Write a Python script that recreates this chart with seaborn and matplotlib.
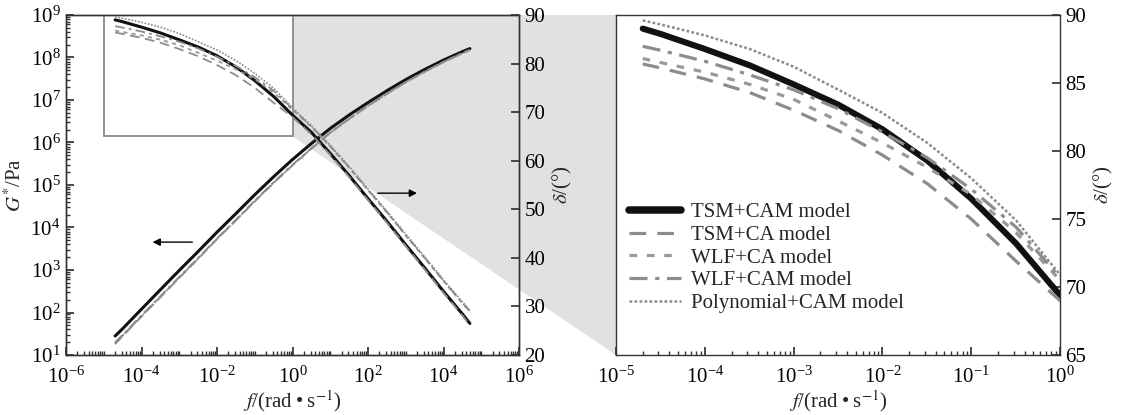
import matplotlib
matplotlib.use('Agg')
import numpy as np
import matplotlib.pyplot as plt
import seaborn as sns
from matplotlib.patches import Rectangle, Polygon
from matplotlib.lines import Line2D
from matplotlib.ticker import LogLocator, NullFormatter

# frequency, rad/s
freq = [2.0e-5, 3.2e-5, 1e-4, 3.2e-4, 1e-3, 3.2e-3, 1e-2, 3.2e-2, 1e-1, 3.2e-1,
        1.0, 3.2, 10, 32, 100, 320, 1e3, 3.2e3, 1e4, 3.2e4, 5.0e4]

models = ['TSM+CAM model', 'TSM+CA model', 'WLF+CA model', 'WLF+CAM model',
          'Polynomial+CAM model']

# complex modulus G*, Pa
gstar_tsm_cam = [28, 42, 120, 347, 977, 2.75e3, 7.76e3, 2.14e4, 5.89e4, 1.58e5,
                 3.98e5, 9.55e5, 2.14e6, 4.47e6, 8.7e6, 1.66e7, 3.02e7, 5.25e7,
                 8.7e7, 1.38e8, 1.62e8]
gstar_tsm_ca = [18, 28, 80, 230, 650, 1.85e3, 5.3e3, 1.47e4, 4.1e4, 1.12e5,
                2.9e5, 7.2e5, 1.68e6, 3.6e6, 7.2e6, 1.4e7, 2.6e7, 4.6e7,
                7.8e7, 1.26e8, 1.5e8]
gstar_wlf_ca = [19, 29, 83, 238, 670, 1.9e3, 5.4e3, 1.5e4, 4.2e4, 1.15e5,
                2.95e5, 7.3e5, 1.7e6, 3.65e6, 7.3e6, 1.42e7, 2.62e7, 4.65e7,
                7.85e7, 1.27e8, 1.5e8]
gstar_wlf_cam = [20, 30, 86, 245, 690, 1.95e3, 5.55e3, 1.54e4, 4.3e4, 1.18e5,
                 3.0e5, 7.45e5, 1.73e6, 3.7e6, 7.4e6, 1.44e7, 2.65e7, 4.7e7,
                 7.9e7, 1.28e8, 1.52e8]
gstar_poly_cam = [19, 29, 82, 235, 660, 1.88e3, 5.35e3, 1.48e4, 4.15e4, 1.13e5,
                  2.92e5, 7.25e5, 1.7e6, 3.62e6, 7.25e6, 1.41e7, 2.6e7, 4.62e7,
                  7.8e7, 1.26e8, 1.49e8]

# phase angle delta, degrees
delta_tsm_cam = [89.0, 88.6, 87.5, 86.3, 84.9, 83.4, 81.6, 79.3, 76.5, 73.2, 69.4,
                 65.8, 61.5, 56.9, 52.2, 47.5, 42.7, 37.9, 33.1, 28.4, 26.5]
delta_tsm_ca = [86.4, 86.1, 85.3, 84.3, 83.0, 81.5, 79.7, 77.6, 75.0, 71.9, 69.0,
                65.4, 61.2, 56.6, 51.9, 47.2, 42.4, 37.6, 32.8, 28.1, 26.2]
delta_wlf_ca = [86.8, 86.5, 85.8, 84.9, 83.8, 82.2, 80.6, 78.8, 76.8, 74.0, 70.5,
                66.9, 62.9, 58.5, 53.9, 49.3, 44.6, 39.9, 35.2, 30.6, 28.9]
delta_wlf_cam = [87.7, 87.4, 86.6, 85.6, 84.5, 83.1, 81.4, 79.5, 77.2, 74.4, 70.7,
                 67.0, 63.0, 58.6, 54.0, 49.4, 44.7, 40.0, 35.3, 30.7, 29.0]
delta_poly_cam = [89.6, 89.3, 88.5, 87.5, 86.2, 84.5, 82.8, 80.6, 78.0, 74.9, 70.9,
                  67.2, 63.2, 58.8, 54.2, 49.6, 44.9, 40.2, 35.5, 30.9, 29.2]

gstar = [gstar_tsm_cam, gstar_tsm_ca, gstar_wlf_ca, gstar_wlf_cam, gstar_poly_cam]
delta = [delta_tsm_cam, delta_tsm_ca, delta_wlf_ca, delta_wlf_cam, delta_poly_cam]

# color, lw left, dashes left, lw right, dashes right
styles = [
    ('#111111', 2.2, None, 4.4, None),
    ('#8c8c8c', 1.3, (7, 4), 2.3, (12, 8)),
    ('#9a9a9a', 1.3, (3, 3), 2.3, (5.5, 7)),
    ('#8c8c8c', 1.3, (7, 3, 2, 3), 2.3, (13, 5.5, 3, 5.5)),
    ('#8c8c8c', 1.2, (1.2, 1.2), 1.8, (2, 1.6)),
]

sns.set_theme(style='ticks')
plt.rcParams['font.family'] = ['Liberation Serif', 'DejaVu Serif']
plt.rcParams['mathtext.fontset'] = 'stix'
plt.rcParams['font.size'] = 15
plt.rcParams['lines.scale_dashes'] = False
plt.rcParams['axes.edgecolor'] = '#333333'
plt.rcParams['axes.linewidth'] = 1.0

fig = plt.figure(figsize=(11.21, 4.15), dpi=100)
W, H = 1121, 415
ax1 = fig.add_axes([66 / W, 60 / H, 453 / W, 340 / H])
ax1.patch.set_visible(False)
ax1.set_xscale('log')
ax1.set_yscale('log')
ax2 = ax1.twinx()
ax3 = fig.add_axes([616 / W, 60 / H, 444 / W, 340 / H])
ax3.set_xscale('log')


def draw(ax, y, color, lw, dashes, z):
    sns.lineplot(x=freq, y=y, ax=ax, color=color, linewidth=lw, estimator=None,
                 sort=False, legend=False, zorder=z,
                 solid_capstyle='round')
    if dashes is not None:
        ax.lines[-1].set_dashes(dashes)


for i in range(len(models)):
    c, lwl, dl, lwr, dr = styles[i]
    draw(ax1, gstar[i], c, lwl, dl, 3 + i)
    draw(ax2, delta[i], c, lwl, dl, 3 + i)
    draw(ax3, delta[i], c, lwr, dr, 3 + i)

xlab = '$f$/(rad\u2009\u2022\u2009s$^{-1}$)'

# left panel axes
ax1.set_xlim(1e-6, 1e6)
ax1.set_ylim(1e1, 1e9)
ax1.set_xticks([1e-6, 1e-4, 1e-2, 1e0, 1e2, 1e4, 1e6])
ax1.xaxis.set_minor_locator(LogLocator(base=10, subs=np.arange(1, 10), numticks=100))
ax1.xaxis.set_minor_formatter(NullFormatter())
ax1.set_yticks([10.0 ** k for k in range(1, 10)])
ax1.yaxis.set_minor_locator(LogLocator(base=10, subs=np.arange(2, 10), numticks=100))
ax1.yaxis.set_minor_formatter(NullFormatter())
ax1.tick_params(which='both', direction='in', top=False, right=False, colors='#333333',
                labelcolor='black', labelsize=15)
ax1.tick_params(axis='x', pad=8)
ax1.tick_params(axis='y', pad=4)
ax1.tick_params(which='major', length=6)
ax1.tick_params(which='minor', length=3)
ax1.set_ylabel('$G^{*}$/Pa', fontsize=15, labelpad=3)
ax1.set_xlabel(xlab, fontsize=15, labelpad=1)

ax2.set_ylim(20, 90)
ax2.set_yticks(range(20, 91, 10))
ax2.tick_params(direction='in', length=6, colors='#333333', labelcolor='black',
                labelsize=15, pad=4)
ax2.set_ylabel('$\\delta$/(\u00b0)', fontsize=15, labelpad=4)
for s in ax2.spines.values():
    s.set_color('#333333')

# inset box marking the zoomed region
ax2.add_patch(Rectangle((1e-5, 65), 1 - 1e-5, 25, fill=False, edgecolor='#8a8a8a',
                        lw=1.3, zorder=2))

# right panel
ax3.set_xlim(1e-5, 1e0)
ax3.set_ylim(65, 90)
ax3.set_xticks([10.0 ** k for k in range(-5, 1)])
ax3.xaxis.set_minor_locator(LogLocator(base=10, subs=np.arange(2, 10), numticks=100))
ax3.xaxis.set_minor_formatter(NullFormatter())
ax3.set_yticks(range(65, 91, 5))
ax3.yaxis.tick_right()
ax3.yaxis.set_label_position('right')
ax3.tick_params(which='both', direction='in', colors='#333333', labelcolor='black',
                labelsize=15, top=False, left=False)
ax3.tick_params(axis='x', pad=8)
ax3.tick_params(axis='y', pad=4)
ax3.tick_params(which='major', length=6)
ax3.tick_params(which='minor', length=3)
ax3.set_ylabel('$\\delta$/(\u00b0)', fontsize=15, labelpad=4)
ax3.set_xlabel(xlab, fontsize=15, labelpad=1)

# grey zoom wedge
inv = fig.transFigure.inverted()
pts = [ax2.transData.transform((1.0, 90)), ax3.transAxes.transform((0, 1)),
       ax3.transAxes.transform((0, 0)), ax2.transData.transform((1.0, 65))]
wedge = Polygon(inv.transform(np.array(pts)), closed=True, transform=fig.transFigure,
                facecolor='#e1e1e4', edgecolor='none', zorder=-1)
fig.add_artist(wedge)

# arrows pointing to the axes
ax1.annotate('', xy=(0.185, 0.332), xytext=(0.285, 0.332), xycoords='axes fraction',
             arrowprops=dict(arrowstyle='-|>', color='black', lw=1.0, mutation_scale=11))
ax1.annotate('', xy=(0.781, 0.476), xytext=(0.682, 0.476), xycoords='axes fraction',
             arrowprops=dict(arrowstyle='-|>', color='black', lw=1.0, mutation_scale=11))

handles = []
for i in range(len(models)):
    c, lwl, dl, lwr, dr = styles[i]
    h = Line2D([], [], color=c, lw=lwr + (1.0 if i == 0 else 0), solid_capstyle='round')
    if dr is not None:
        h.set_dashes(dr)
    handles.append(h)
ax3.legend(handles, models, loc='upper left', bbox_to_anchor=(0.0, 0.485),
           frameon=False, fontsize=15, handlelength=2.5, handletextpad=0.5,
           labelspacing=0.15, borderaxespad=0.2)

fig.savefig('out.png', dpi=100)
